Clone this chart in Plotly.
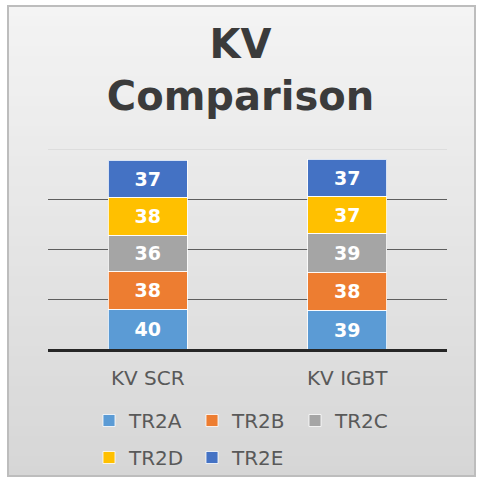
import plotly.graph_objects as go

categories = ["KV SCR", "KV IGBT"]
series_names = ["TR2A", "TR2B", "TR2C", "TR2D", "TR2E"]
tr2a = [40, 39]
tr2b = [38, 38]
tr2c = [36, 39]
tr2d = [38, 37]
tr2e = [37, 37]
series_values = [tr2a, tr2b, tr2c, tr2d, tr2e]
colors = ["#5B9BD5", "#ED7D31", "#A5A5A5", "#FFC000", "#4472C4"]
legend_ids = ["legend", "legend", "legend", "legend2", "legend2"]

W, H = 481, 483
L, R, T, B = 48, 34, 149, 134
PW = W - L - R
PH = H - T - B

fig = go.Figure()
for name, vals, col, lg in zip(series_names, series_values, colors, legend_ids):
    fig.add_trace(go.Bar(
        x=categories, y=vals, name=name, legend=lg,
        marker=dict(color=col, line=dict(color="rgba(255,255,255,0.8)", width=1)),
        texttemplate="%{y}", textposition="inside", insidetextanchor="middle",
        textfont=dict(family="DejaVu Sans", size=19, color="white", weight="bold"),
        width=0.395,
    ))

def px2paper_x(px):
    return (px - L) / PW

def px2paper_y(py):
    return (H - B - py) / PH

shapes = []
# gradient background bands
x0, x1, ytop, ybot = 8, 475, 6, 476
n = 47
top_c = (244, 244, 244)
bot_c = (214, 214, 214)
for i in range(n):
    ya = ytop + (ybot - ytop) * i / n
    yb = ytop + (ybot - ytop) * (i + 1) / n + 0.6
    t = (i + 0.5) / n
    c = tuple(int(round(top_c[k] + (bot_c[k] - top_c[k]) * t)) for k in range(3))
    shapes.append(dict(type="rect", xref="paper", yref="paper", layer="below",
                       x0=px2paper_x(x0), x1=px2paper_x(x1),
                       y0=px2paper_y(yb), y1=px2paper_y(ya),
                       line=dict(width=0), fillcolor="rgb(%d,%d,%d)" % c))
shapes.append(dict(type="rect", xref="paper", yref="paper", layer="below",
                   x0=px2paper_x(x0), x1=px2paper_x(x1),
                   y0=px2paper_y(ybot), y1=px2paper_y(ytop),
                   line=dict(width=2, color="#bdbdbd"), fillcolor="rgba(0,0,0,0)"))
# faint top gridline at 200
shapes.append(dict(type="line", xref="paper", yref="y", layer="below",
                   x0=0, x1=1, y0=200, y1=200,
                   line=dict(width=1, color="#d0d0d0")))

fig.update_layout(
    width=W, height=H,
    margin=dict(l=L, r=R, t=T, b=B),
    paper_bgcolor="white",
    plot_bgcolor="rgba(0,0,0,0)",
    barmode="stack",
    title=dict(text="KV<br>Comparison", x=0.5, xanchor="center",
               yref="container", y=1 - 58 / H, yanchor="top",
               font=dict(family="DejaVu Sans", size=40, color="#3b3b3b", weight="bold")),
    xaxis=dict(showgrid=False, showline=True, linecolor="#262626", linewidth=3,
               ticks="", ticklabelstandoff=9,
               tickfont=dict(family="DejaVu Sans", size=20, color="#595959"),
               range=[-0.5, 1.5], fixedrange=True),
    yaxis=dict(range=[0, 200], tickvals=[50, 100, 150], showticklabels=False,
               gridcolor="#5e5e5e", gridwidth=1, zeroline=False, showline=False),
    shapes=shapes,
    showlegend=True,
    legend=dict(orientation="h", xref="container", yref="container",
                x=89 / W, xanchor="left", y=1 - 401 / H, yanchor="top",
                font=dict(family="DejaVu Sans", size=20, color="#595959"),
                entrywidth=58, bgcolor="rgba(0,0,0,0)", traceorder="normal"),
    legend2=dict(orientation="h", xref="container", yref="container",
                 x=89 / W, xanchor="left", y=1 - 438 / H, yanchor="top",
                 font=dict(family="DejaVu Sans", size=20, color="#595959"),
                 entrywidth=58, bgcolor="rgba(0,0,0,0)", traceorder="normal"),
)

fig.write_html("out.html", config={"displayModeBar": False},
               post_script="document.body.style.margin='0';document.body.style.overflow='hidden';")
